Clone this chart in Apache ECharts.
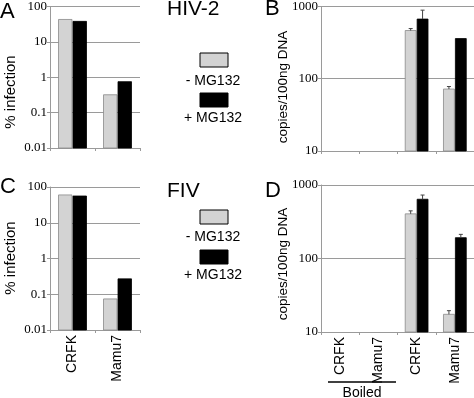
<!DOCTYPE html>
<html>
<head>
<meta charset="utf-8">
<script src="https://cdn.jsdelivr.net/npm/echarts@6/dist/echarts.min.js"></script>
<style>
  html, body { margin: 0; padding: 0; background: #fff; }
  #chart { width: 474px; height: 398px; }
</style>
</head>
<body>
<div id="chart"></div>
<script>
// infection assay (% infected), panels A and C
const infCells = ['CRFK', 'Mamu7'];
const hivMinus = [43, 0.32];
const hivPlus = [38, 0.75];
const fivMinus = [60, 0.074];
const fivPlus = [56, 0.27];
const infTicks = [0.01, 0.1, 1, 10, 100];

// qPCR copies/100ng DNA, panels B and D (first two are boiled controls)
const pcrCells = ['CRFK', 'Mamu7', 'CRFK', 'Mamu7'];
const hivPcrMinus = [null, null, 465, 72];
const hivPcrMinusErr = [null, null, 495, 78];
const hivPcrPlus = [null, null, 670, 360];
const hivPcrPlusErr = [null, null, 890, null];
const fivPcrMinus = [null, null, 405, 17.4];
const fivPcrMinusErr = [null, null, 445, 19.5];
const fivPcrPlus = [null, null, 640, 192];
const fivPcrPlusErr = [null, null, 730, 213];
const pcrTicks = [10, 100, 1000];

const LIGHT = '#d3d3d3';
const DARK = '#000';
const GRID_LINE = '#9a9a9a';

const chart = echarts.init(document.getElementById('chart'));

const toData = (vals, errs) =>
  vals.map((v, i) => [i, v, errs ? errs[i] : null]).filter(d => d[1] != null);

// bars drawn on a log axis from the axis floor, with optional error bar
const barRenderer = (side, widthFrac, floor, fill) => (params, api) => {
  const cat = api.value(0);
  const val = api.value(1);
  const err = api.value(2);
  const band = api.size([1, 0])[0];
  const w = band * widthFrac;
  const top = api.coord([cat, val]);
  const base = api.coord([cat, floor]);
  const x = side < 0 ? top[0] - w - 0.5 : top[0] + 0.5;
  const children = [{
    type: 'rect',
    shape: { x: x, y: top[1], width: w, height: base[1] - top[1] },
    style: { fill: fill, stroke: fill === LIGHT ? '#8a8a8a' : DARK, lineWidth: 0.8 }
  }];
  if (err > 0) {
    const e = api.coord([cat, err]);
    const cx = x + w / 2;
    children.push(
      { type: 'line', shape: { x1: cx, y1: top[1], x2: cx, y2: e[1] }, style: { stroke: '#444', lineWidth: 1 } },
      { type: 'line', shape: { x1: cx - 2, y1: e[1], x2: cx + 2, y2: e[1] }, style: { stroke: '#444', lineWidth: 1 } }
    );
  }
  return { type: 'group', children: children };
};

const barSeries = (idx, side, frac, floor, fill, vals, errs) => ({
  type: 'custom',
  xAxisIndex: idx,
  yAxisIndex: idx,
  renderItem: barRenderer(side, frac, floor, fill),
  encode: { x: 0, y: 1 },
  data: toData(vals, errs),
  silent: true
});

const xAxisFor = (idx, cats, showLabels) => ({
  type: 'category',
  gridIndex: idx,
  data: cats,
  axisLine: { lineStyle: { color: GRID_LINE, width: 1 } },
  axisTick: { show: true, length: 3, lineStyle: { color: GRID_LINE } },
  axisLabel: {
    show: showLabels,
    rotate: 90,
    margin: 5,
    interval: 0,
    color: '#000',
    fontFamily: 'Liberation Sans',
    fontSize: 14
  }
});

const yAxisFor = (idx, min, max) => ({
  type: 'log',
  gridIndex: idx,
  logBase: 10,
  min: min,
  max: max,
  splitNumber: 4,
  axisLine: { show: true, lineStyle: { color: GRID_LINE, width: 1 } },
  axisTick: { show: true, length: 3, lineStyle: { color: GRID_LINE } },
  splitLine: { show: true, lineStyle: { color: GRID_LINE, width: 1 } },
  minorTick: { show: false },
  axisLabel: {
    margin: 3,
    color: '#000',
    fontFamily: '"Liberation Serif", "DejaVu Serif", serif',
    fontSize: 13,
    formatter: v => String(+v.toPrecision(6))
  }
});

const sans = 'Liberation Sans';
const txt = (text, x, y, size, extra) => Object.assign({
  type: 'text',
  x: x,
  y: y,
  style: { text: text, fontFamily: sans, fontSize: size, fill: '#000', textAlign: 'left', textVerticalAlign: 'top' }
}, extra || {});
const vtxt = (text, x, y, size) => ({
  type: 'text',
  x: x,
  y: y,
  rotation: Math.PI / 2,
  style: { text: text, fontFamily: sans, fontSize: size, fill: '#000', textAlign: 'center', textVerticalAlign: 'middle' }
});
const box = (x, y, fill) => ({
  type: 'rect',
  shape: { x: x, y: y, width: 28, height: 14 },
  style: { fill: fill, stroke: '#000', lineWidth: 1 }
});
const ctxt = (text, x, y, size) => ({
  type: 'text',
  x: x,
  y: y,
  style: { text: text, fontFamily: sans, fontSize: size, fill: '#000', textAlign: 'center', textVerticalAlign: 'middle' }
});

chart.setOption({
  animation: false,
  grid: [
    { left: 50, top: 5, width: 90, height: 143 },
    { left: 321, top: 5, width: 155, height: 146 },
    { left: 50, top: 187, width: 90, height: 143 },
    { left: 321, top: 185, width: 155, height: 147 }
  ],
  xAxis: [
    xAxisFor(0, infCells, false),
    xAxisFor(1, pcrCells, false),
    xAxisFor(2, infCells, true),
    xAxisFor(3, pcrCells, true)
  ],
  yAxis: [
    yAxisFor(0, infTicks[0], infTicks[infTicks.length - 1]),
    yAxisFor(1, pcrTicks[0], pcrTicks[pcrTicks.length - 1]),
    yAxisFor(2, infTicks[0], infTicks[infTicks.length - 1]),
    yAxisFor(3, pcrTicks[0], pcrTicks[pcrTicks.length - 1])
  ],
  series: [
    barSeries(0, -1, 0.3, infTicks[0], LIGHT, hivMinus),
    barSeries(0, 1, 0.3, infTicks[0], DARK, hivPlus),
    barSeries(1, -1, 0.285, pcrTicks[0], LIGHT, hivPcrMinus, hivPcrMinusErr),
    barSeries(1, 1, 0.285, pcrTicks[0], DARK, hivPcrPlus, hivPcrPlusErr),
    barSeries(2, -1, 0.3, infTicks[0], LIGHT, fivMinus),
    barSeries(2, 1, 0.3, infTicks[0], DARK, fivPlus),
    barSeries(3, -1, 0.285, pcrTicks[0], LIGHT, fivPcrMinus, fivPcrMinusErr),
    barSeries(3, 1, 0.285, pcrTicks[0], DARK, fivPcrPlus, fivPcrPlusErr)
  ],
  graphic: [
    txt('A', 0, 1, 22),
    txt('B', 265, -2, 22),
    txt('C', 0, 176, 22),
    txt('D', 265, 180, 22),
    txt('HIV-2', 167, -1, 21),
    txt('FIV', 167, 181, 21),
    vtxt('% infection', 11, 92, 15),
    vtxt('% infection', 11, 258, 15),
    vtxt('copies/100ng DNA', 283, 87, 13.5),
    vtxt('copies/100ng DNA', 283, 264, 13.5),
    box(200, 53, LIGHT),
    ctxt('- MG132', 213, 81, 14),
    box(200, 93, DARK),
    ctxt('+ MG132', 213, 118, 14),
    box(200, 210, LIGHT),
    ctxt('- MG132', 213, 237, 14),
    box(200, 250, DARK),
    ctxt('+ MG132', 213, 275, 14),
    {
      type: 'line',
      shape: { x1: 328, y1: 382, x2: 396, y2: 382 },
      style: { stroke: '#000', lineWidth: 1.5 }
    },
    ctxt('Boiled', 362, 393, 14)
  ]
});
</script>
</body>
</html>
